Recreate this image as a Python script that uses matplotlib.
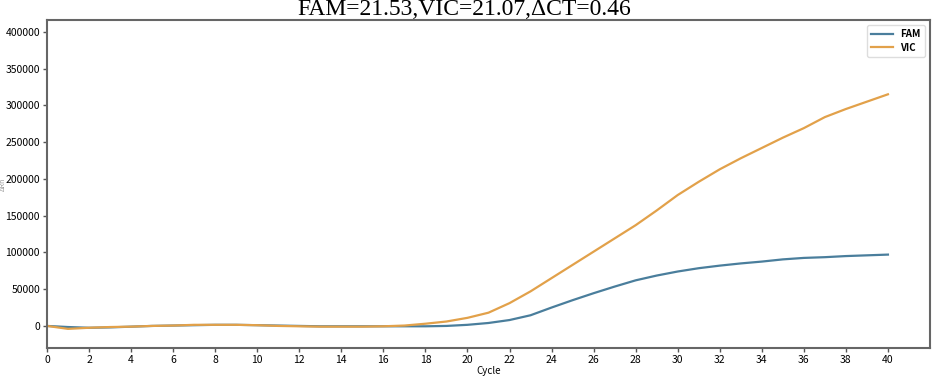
import matplotlib.pyplot as plt
import numpy as np

cycles = list(range(0, 41))
fam = [0, -1500, -2500, -2000, -1000, 0, 500, 1000, 1500, 1500,
       1000, 500, 0, -500, -500, -500, -500, -500, -500, 0,
       1500, 4000, 8000, 14500, 25000, 35000, 44500, 53500, 62000, 68500,
       74000, 78500, 82000, 85000, 87500, 90500, 92500, 93500, 95000, 96000,
       97000]
vic = [0, -4000, -2500, -1500, -1000, 0, 500, 1500, 1500, 1500,
       1000, 0, -500, -1000, -1000, -1000, -500, 500, 3000, 6000,
       11000, 18000, 31000, 47000, 65000, 83000, 101000, 119000, 137000, 157000,
       178000, 196000, 213000, 228000, 242000, 256000, 269000, 284000, 295000, 305000,
       315000]
title = 'FAM=21.53,VIC=21.07,\u0394CT=0.46'

cjk = ['Noto Sans CJK SC', 'DejaVu Sans']

fig = plt.figure(figsize=(9.34, 3.78), dpi=100)
ax = fig.add_axes([0.0503, 0.0794, 0.9454, 0.8676])

ax.plot(cycles, fam, color='#4a7e9c', lw=1.6, label='FAM')
ax.plot(cycles, vic, color='#e2a14a', lw=1.6, label='VIC')

ax.set_xlim(0, 42)
ax.set_ylim(-30000, 416000)
ax.set_xticks(np.arange(0, 41, 2))
ax.set_yticks(np.arange(0, 400001, 50000))
ax.tick_params(labelsize=7.5, length=3, width=1, color='#555555', pad=2)
for lab in ax.get_xticklabels() + ax.get_yticklabels():
    lab.set_family(cjk)
for s in ax.spines.values():
    s.set_color('#666666')
    s.set_linewidth(1.5)

ax.set_xlabel('Cycle', family=cjk, fontsize=7, labelpad=1)
ax.set_ylabel('\u0394Rn', family=cjk, fontsize=5, color='#999999')
ax.yaxis.set_label_coords(-0.045, 0.5)

leg = ax.legend(loc='upper right', prop={'family': cjk, 'size': 7, 'weight': 'bold'},
                handlelength=2.2, borderpad=0.45, labelspacing=0.35, framealpha=1)
leg.get_frame().set_edgecolor('#dddddd')

fig.text(0.497, 0.974, title, ha='center', va='center', family='Liberation Serif', fontsize=17)

fig.savefig('out.png', dpi=100)
